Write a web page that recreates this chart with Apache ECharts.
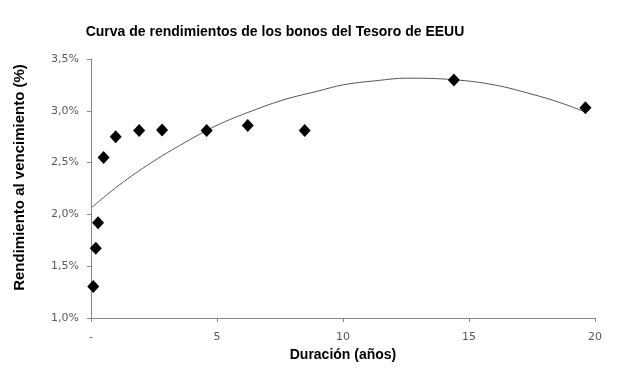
<!DOCTYPE html>
<html>
<head>
<meta charset="utf-8">
<script src="https://cdn.jsdelivr.net/npm/echarts@6/dist/echarts.min.js"></script>
<style>html,body{margin:0;padding:0;background:#fff;}#c{width:617px;height:373px;}</style>
</head>
<body>
<div id="c"></div>
<script>
// Duration (years) and yield (%) of each bond
const durations = [0.09, 0.19, 0.28, 0.50, 0.98, 1.91, 2.82, 4.59, 6.22, 8.48, 14.40, 19.62];
const yields    = [1.305, 1.674, 1.92, 2.55, 2.75, 2.81, 2.815, 2.81, 2.857, 2.81, 3.297, 3.03];
// Trend line
const trendX = [0.05, 1.1, 2.4, 3.7, 5.0, 6.4, 7.7, 9.0, 10.0, 11.3, 12.6, 14.4, 16.0, 17.5, 18.6, 19.6];
const trendY = [2.07, 2.28, 2.50, 2.69, 2.86, 3.00, 3.11, 3.19, 3.25, 3.29, 3.315, 3.30, 3.25, 3.16, 3.08, 2.99];
const xTicks = [0, 5, 10, 15, 20];
const yTicks = [1.0, 1.5, 2.0, 2.5, 3.0, 3.5];

const chart = echarts.init(document.getElementById('c'), null, {renderer: 'canvas'});
const font = 'Liberation Sans, Arial, sans-serif';
chart.setOption({
  animation: false,
  backgroundColor: '#ffffff',
  title: {
    text: 'Curva de rendimientos de los bonos del Tesoro de EEUU',
    left: 270, top: 20, textAlign: 'center',
    textStyle: {fontFamily: font, fontSize: 14, fontWeight: 'bold', color: '#000'}
  },
  grid: {left: 91, right: 22, top: 59, bottom: 55, containLabel: false},
  xAxis: {
    type: 'value', min: xTicks[0], max: xTicks[xTicks.length - 1], interval: 5,
    name: 'Duración (años)', nameLocation: 'middle', nameGap: 27,
    nameTextStyle: {fontFamily: font, fontSize: 14, fontWeight: 'bold', color: '#000'},
    axisLine: {show: true, lineStyle: {color: '#868686', width: 1}},
    axisTick: {show: true, length: 4, lineStyle: {color: '#868686'}},
    splitLine: {show: false},
    axisLabel: {
      fontFamily: 'DejaVu Sans, Verdana, sans-serif', fontSize: 11, color: '#595959', margin: 14,
      formatter: v => v === 0 ? '-' : String(v)
    }
  },
  yAxis: {
    type: 'value', min: yTicks[0], max: yTicks[yTicks.length - 1], interval: 0.5,
    name: 'Rendimiento al vencimiento (%)', nameLocation: 'middle', nameGap: 64, nameRotate: 90,
    nameTextStyle: {fontFamily: font, fontSize: 15, fontWeight: 'bold', color: '#000', padding: [0, 0, 0, 22]},
    axisLine: {show: true, lineStyle: {color: '#868686', width: 1}},
    axisTick: {show: true, length: 4, lineStyle: {color: '#868686'}},
    splitLine: {show: false},
    axisLabel: {
      fontFamily: 'DejaVu Sans, Verdana, sans-serif', fontSize: 11, color: '#595959', margin: 12,
      formatter: v => v.toFixed(1).replace('.', ',') + '%'
    }
  },
  series: [
    {
      type: 'line',
      data: trendX.map((x, i) => [x, trendY[i]]),
      smooth: 0.4, showSymbol: false, symbol: 'none',
      lineStyle: {color: '#555555', width: 1},
      z: 1
    },
    {
      type: 'scatter',
      data: durations.map((x, i) => [x, yields[i]]),
      symbol: 'diamond', symbolSize: [12, 13],
      itemStyle: {color: '#000000', opacity: 1},
      z: 2
    }
  ]
});
</script>
</body>
</html>
